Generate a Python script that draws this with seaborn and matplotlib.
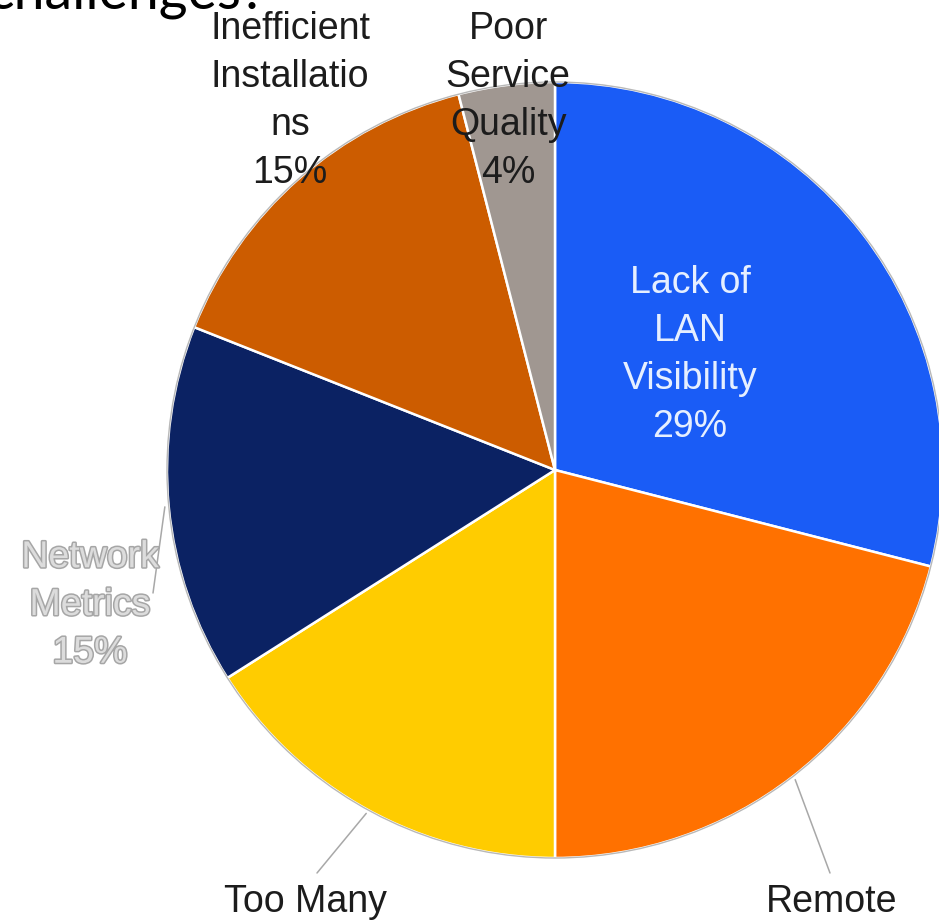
import numpy as np
import matplotlib
matplotlib.use('Agg')
import matplotlib.pyplot as plt
import matplotlib.patheffects as pe
import seaborn as sns

# ===================== 数据 =====================
categories = ['Lack of LAN Visibility', 'Remote', 'Too Many', 'Network Metrics',
              'Inefficient Installations', 'Poor Service Quality']
shares = [29, 21, 16, 15, 15, 4]
slice_colors = ['#1a5cf6', '#ff7100', '#ffcc00', '#0b2263', '#cc5c00', '#a09791']

# ===================== 画布 =====================
sns.set_theme(style='white')
plt.rcParams['font.family'] = ['Liberation Sans', 'DejaVu Sans']

W, H = 939, 922
fig = plt.figure(figsize=(W / 100, H / 100), dpi=100)
ax = fig.add_axes([0, 0, 1, 1])

cx, cy, r = 555, H - 470, 388
wedges, _ = ax.pie(shares, colors=slice_colors, startangle=90, counterclock=False,
                   center=(cx, cy), radius=r,
                   wedgeprops=dict(edgecolor='white', linewidth=1.8))
for w in wedges:
    w.set_zorder(1)
# thin grey rim
rim = plt.Circle((cx, cy), r, fill=False, edgecolor='#b8b8b8', linewidth=1.0, zorder=2)
ax.add_patch(rim)

ax.set_xlim(0, W)
ax.set_ylim(0, H)
ax.set_aspect('equal')
ax.axis('off')

# 角度（顺时针，从12点起）
bounds = np.concatenate([[0], np.cumsum(shares)]) / sum(shares) * 360
mids = (bounds[:-1] + bounds[1:]) / 2


def edge_point(angle, k=1.0):
    a = np.deg2rad(angle)
    return cx + k * r * np.sin(a), cy + k * r * np.cos(a)


# ===================== 标签 =====================
dark = '#1c1c1c'
lab_kw = dict(ha='center', va='center', multialignment='center', linespacing=1.42)

ax.text(690, H - 355, 'Lack of\nLAN\nVisibility\n29%', color='#e6efff', fontsize=27, **lab_kw)
ax.text(290, H - 101, 'Inefficient\nInstallatio\nns\n15%', color=dark, fontsize=27, **lab_kw)
ax.text(508, H - 101, 'Poor\nService\nQuality\n4%', color=dark, fontsize=27, **lab_kw)
ax.text(90, H - 605, 'Network\nMetrics\n15%', color='#dcdcdc', fontsize=27,
        path_effects=[pe.withStroke(linewidth=2.2, foreground='#a6a6a6')], **lab_kw)

ax.text(305, H - 884, 'Too Many', color=dark, fontsize=27, ha='center', va='top')
ax.text(832, H - 884, 'Remote', color=dark, fontsize=27, ha='center', va='top')

# 引导线
leader_ends = {1: (830, H - 873), 2: (317, H - 873), 3: (153, H - 593)}
for i, (ex, ey) in leader_ends.items():
    sx, sy = edge_point(mids[i], 1.01)
    ax.plot([sx, ex], [sy, ey], color='#a8a8a8', lw=1.1, zorder=0)

# 标题（被裁切）
ax.text(266, H - 9, 'challenges?', color='black', fontsize=40, ha='right', va='baseline',
        family=['Lato', 'DejaVu Sans'])

plt.savefig('out.png', dpi=100)
plt.close()
